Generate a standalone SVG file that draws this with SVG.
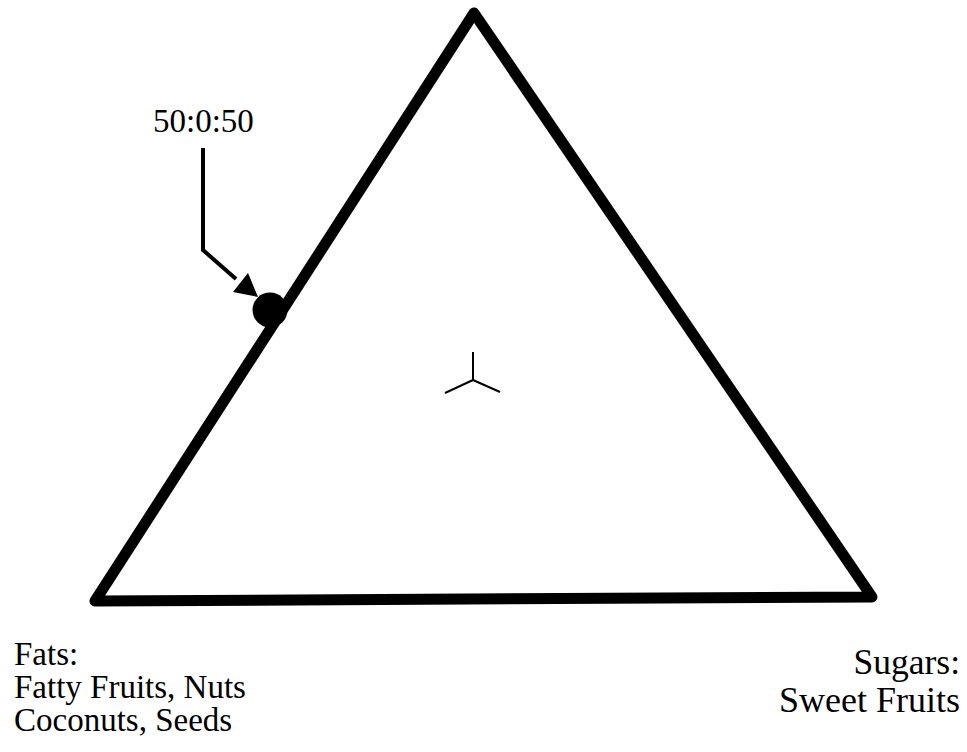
<svg xmlns="http://www.w3.org/2000/svg" width="967" height="752" viewBox="0 0 967 752">
<style>
.lbl{font-family:"Liberation Serif","Times New Roman",serif;font-size:33px;fill:#000}
.big{font-size:36px}
.thin{fill:none;stroke:#000;stroke-width:2}
</style>
<rect width="967" height="752" fill="#fff"/>
<g id="triangle">
<polygon points="474,13 95,601 872,597" fill="none" stroke="#000" stroke-width="11" stroke-linejoin="round"/>
</g>
<g id="point">
<circle cx="270" cy="310" r="17.5" fill="#000"/>
</g>
<g id="center">
<line class="thin" x1="473" y1="352" x2="473" y2="380"/>
<line class="thin" x1="473" y1="380" x2="445" y2="393"/>
<line class="thin" x1="473" y1="380" x2="500" y2="392"/>
</g>
<g id="connectors">
<polyline points="203,148 203,250 236,279" fill="none" stroke="#000" stroke-width="4"/>
<polygon points="258,297 233,292 248,273" fill="#000"/>
</g>
<g id="label-point">
<text class="lbl" x="153" y="132">50:0:50</text>
</g>
<g id="label-fats">
<text class="lbl" x="14" y="665">Fats:</text>
<text class="lbl" x="14" y="698">Fatty Fruits, Nuts</text>
<text class="lbl" x="14" y="731">Coconuts, Seeds</text>
</g>
<g id="label-sugars">
<text class="lbl" x="960" y="674" text-anchor="end" style="font-size:35.5px">Sugars:</text>
<text class="lbl big" x="960" y="712" text-anchor="end">Sweet Fruits</text>
</g>
</svg>
